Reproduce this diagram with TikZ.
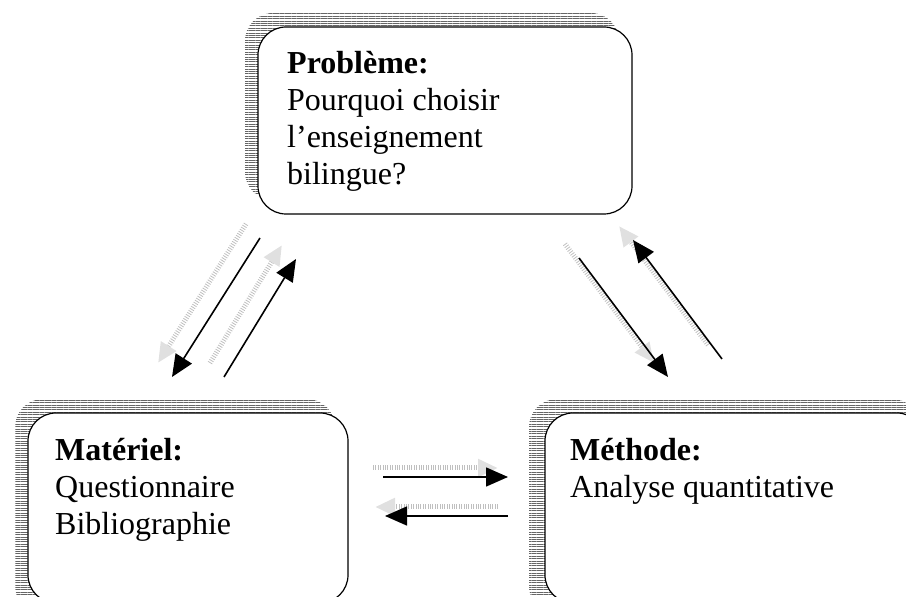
\documentclass[tikz,border=0pt]{standalone}
\usepackage{fontspec}
\setmainfont{Liberation Serif}
\usetikzlibrary{arrows.meta,patterns.meta}
\tikzset{
  x=1pt,y=1pt,
  boxshape/.style={draw=black,line width=1.2pt,fill=white,rounded corners=28pt},
  shadowshape/.style={rounded corners=28pt,pattern={Lines[angle=0,distance=2.4pt,line width=0.8pt]},pattern color=black!60},
  boxtext/.style={anchor=north west,inner sep=0pt,align=left,font=\fontsize{32}{37}\selectfont},
  arr/.style={line width=1.6pt,-{Triangle[length=22pt,width=19pt]}},
  ghost/.style={line width=5pt,draw=black!25,dash pattern=on 0.8pt off 1.6pt,-{Triangle[length=20pt,width=17pt,color=black!12,fill=black!12]}}
}
\begin{document}
\begin{tikzpicture}
\useasboundingbox (0,0) rectangle (906,597);
\clip (0,0) rectangle (906,597);
% shadows
\path[shadowshape] (245,584) rectangle (619,397);
\path[shadowshape] (15,198) rectangle (335,-17);
\path[shadowshape] (529,198) rectangle (920,-17);
% boxes
\node[boxshape,minimum width=374pt,minimum height=187pt,inner sep=0pt] (prob) at (445,476.5) {};
\node[boxshape,minimum width=320pt,minimum height=190pt,inner sep=0pt] (mat) at (188,89) {};
\node[boxshape,minimum width=380pt,minimum height=190pt,inner sep=0pt] (meth) at (735,89) {};
% texts
\node[boxtext] (probt) at (287,546) {\textbf{Problème:}\\Pourquoi choisir\\l’enseignement\\bilingue?};
\node[boxtext] (matt) at (55,159) {\textbf{Matériel:}\\Questionnaire\\Bibliographie};
\node[boxtext] (metht) at (570,159) {\textbf{Méthode:}\\Analyse quantitative};
% arrow end points
\coordinate (a1s) at (260,359); \coordinate (a1e) at (172,220);
\coordinate (a2s) at (224,220); \coordinate (a2e) at (296,338);
\coordinate (a3s) at (579,339); \coordinate (a3e) at (668,220);
\coordinate (a4s) at (722,238); \coordinate (a4e) at (633,357);
\coordinate (a5s) at (383,120); \coordinate (a5e) at (508,120);
\coordinate (a6s) at (508,81);  \coordinate (a6e) at (385,81);
% ghosts
\draw[ghost] ([shift={(-14,14)}]a1s) -- ([shift={(-14,14)}]a1e);
\draw[ghost] ([shift={(-14,14)}]a2s) -- ([shift={(-14,14)}]a2e);
\draw[ghost] ([shift={(-14,14)}]a3s) -- ([shift={(-14,14)}]a3e);
\draw[ghost] ([shift={(-14,14)}]a4s) -- ([shift={(-14,14)}]a4e);
\draw[ghost] ([shift={(-10,9)}]a5s) -- ([shift={(-10,9)}]a5e);
\draw[ghost] ([shift={(-10,9)}]a6s) -- ([shift={(-10,9)}]a6e);
% arrows
\draw[arr] (a1s) -- (a1e);
\draw[arr] (a2s) -- (a2e);
\draw[arr] (a3s) -- (a3e);
\draw[arr] (a4s) -- (a4e);
\draw[arr] (a5s) -- (a5e);
\draw[arr] (a6s) -- (a6e);
\end{tikzpicture}
\end{document}
